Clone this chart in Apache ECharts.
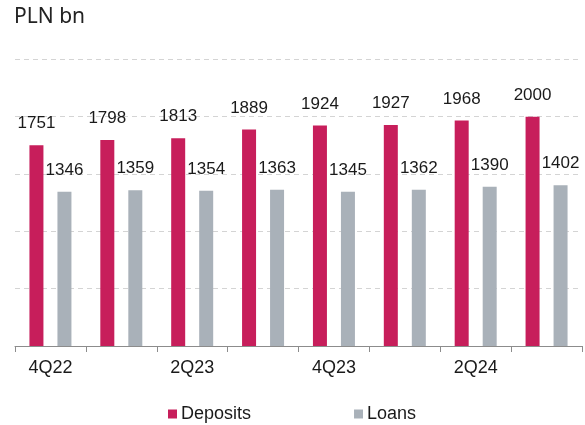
<!DOCTYPE html>
<html>
<head>
<meta charset="utf-8">
<script src="https://cdn.jsdelivr.net/npm/echarts@6/dist/echarts.min.js"></script>
<style>
  html, body { margin: 0; padding: 0; background: #fff; }
  #main { width: 585px; height: 425px; }
</style>
</head>
<body>
<div id="main"></div>
<script>
// quarters on the x axis
var quarters = ['4Q22', '1Q23', '2Q23', '3Q23', '4Q23', '1Q24', '2Q24', '3Q24'];
// PLN bn
var deposits = [1751, 1798, 1813, 1889, 1924, 1927, 1968, 2000];
var loans = [1346, 1359, 1354, 1363, 1345, 1362, 1390, 1402];

var chart = echarts.init(document.getElementById('main'), null, { renderer: 'canvas' });

var labelStyle = {
  show: true,
  position: 'top',
  distance: 13,
  color: '#1a1a1a',
  fontSize: 17,
  fontFamily: 'Liberation Sans, Arial, sans-serif'
};

var option = {
  animation: false,
  backgroundColor: '#fff',
  title: {
    text: 'PLN bn',
    left: 9,
    top: 2,
    textStyle: {
      fontFamily: 'Noto Sans',
      fontWeight: 'normal',
      fontSize: 21,
      color: '#222'
    }
  },
  legend: {
    left: 163,
    top: 400,
    itemWidth: 9,
    itemHeight: 9,
    itemGap: 103,
    icon: 'rect',
    textStyle: {
      fontFamily: 'Liberation Sans, Arial, sans-serif',
      fontSize: 18,
      color: '#1a1a1a',
      padding: [0, 0, 0, -1]
    },
    data: ['Deposits', 'Loans']
  },
  grid: {
    left: 15,
    right: 3,
    top: 59.4,
    bottom: 79,
    containLabel: false
  },
  xAxis: {
    type: 'category',
    data: quarters,
    axisLine: { lineStyle: { color: '#8c8c8c', width: 1 } },
    axisTick: { show: true, interval: 0, length: 6, lineStyle: { color: '#8c8c8c' } },
    axisLabel: {
      interval: 1,
      margin: 13,
      color: '#1a1a1a',
      fontSize: 18,
      fontFamily: 'Liberation Sans, Arial, sans-serif'
    }
  },
  yAxis: {
    type: 'value',
    min: 0,
    max: 2500,
    interval: 500,
    axisLabel: { show: false },
    axisLine: { show: false },
    axisTick: { show: false },
    splitLine: {
      show: true,
      lineStyle: { color: '#d4d4d4', type: [5, 4], width: 1 }
    }
  },
  series: [
    {
      name: 'Deposits',
      type: 'bar',
      data: deposits,
      barWidth: 14,
      barGap: '100%',
      itemStyle: { color: '#c71e5b' },
      label: labelStyle
    },
    {
      name: 'Loans',
      type: 'bar',
      data: loans,
      barWidth: 14,
      itemStyle: { color: '#a9b1b9' },
      label: labelStyle
    }
  ]
};

chart.setOption(option);
</script>
</body>
</html>
